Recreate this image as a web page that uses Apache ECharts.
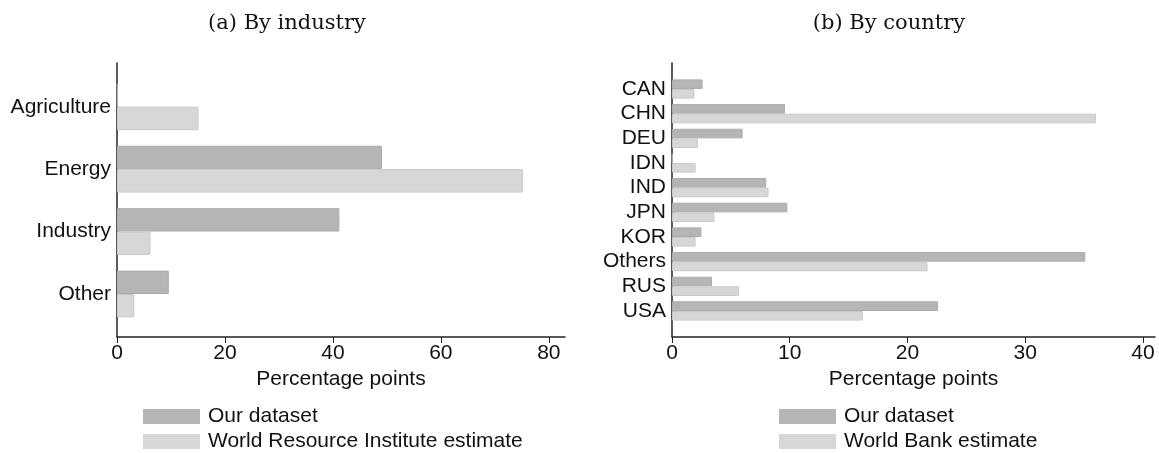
<!DOCTYPE html>
<html>
<head>
<meta charset="utf-8">
<script src="https://cdn.jsdelivr.net/npm/echarts@6/dist/echarts.min.js"></script>
<style>
  html, body { margin: 0; padding: 0; background: #fff; }
  #chart { width: 1159px; height: 453px; }
</style>
</head>
<body>
<div id="chart"></div>
<script>
// Panel (a): emissions shares by industry
const industries = ['Agriculture', 'Energy', 'Industry', 'Other'];
const industryOurs = [0.15, 49.1, 41.2, 9.6];
const industryWRI = [15.1, 75.2, 6.2, 3.2];
const industryTicks = [0, 20, 40, 60, 80];

// Panel (b): emissions shares by country
const countries = ['CAN', 'CHN', 'DEU', 'IDN', 'IND', 'JPN', 'KOR', 'Others', 'RUS', 'USA'];
const countryOurs = [2.6, 9.6, 6.0, 0.05, 8.0, 9.8, 2.5, 35.1, 3.4, 22.6];
const countryWB = [1.9, 36.0, 2.2, 2.0, 8.2, 3.6, 2.0, 21.7, 5.7, 16.2];
const countryTicks = [0, 10, 20, 30, 40];

const DARK = '#b5b5b5';
const LIGHT = '#d7d7d7';
const SANS = '"Liberation Sans", Arial, sans-serif';
const SERIF = '"DejaVu Serif", serif';
const AXIS_COLOR = '#222';
const FS = 21;

const chart = echarts.init(document.getElementById('chart'), null, { renderer: 'canvas' });

// Outer grids carry the visible frame axes; inner grids hold the bars.
const grids = [
  { left: 117, right: 594, top: 63, bottom: 116 },     // (a) frame
  { left: 117, right: 594, top: 75.5, bottom: 127.8 }, // (a) bars
  { left: 672, right: 4, top: 63, bottom: 116 },       // (b) frame
  { left: 672, right: 4, top: 76.7, bottom: 129.7 }    // (b) bars
];

function frameX(gridIndex, max, ticks) {
  return {
    type: 'value', gridIndex, min: 0, max,
    axisLine: { show: true, lineStyle: { color: AXIS_COLOR, width: 1.5 } },
    axisTick: { show: true, length: 6, customValues: ticks, lineStyle: { color: AXIS_COLOR, width: 1 } },
    axisLabel: { customValues: ticks, fontFamily: SANS, fontSize: FS, color: '#111', margin: 6 },
    splitLine: { show: false },
    name: 'Percentage points', nameLocation: 'middle', nameGap: 31,
    nameTextStyle: { fontFamily: SANS, fontSize: FS, color: '#111' }
  };
}
function hiddenX(gridIndex, max) {
  return { type: 'value', gridIndex, min: 0, max, show: false, splitLine: { show: false } };
}
function frameY(gridIndex) {
  return {
    type: 'value', gridIndex, min: 0, max: 1,
    axisLine: { show: true, lineStyle: { color: AXIS_COLOR, width: 1.5 } },
    axisTick: { show: false }, axisLabel: { show: false }, splitLine: { show: false }
  };
}
function barY(gridIndex, cats) {
  return {
    type: 'category', gridIndex, data: cats, inverse: true,
    axisLine: { show: false }, axisTick: { show: false },
    axisLabel: { interval: 0, fontFamily: SANS, fontSize: FS, color: '#111', margin: 6 }
  };
}
function barSeries(name, data, xi, yi, color, border, gap) {
  return {
    type: 'bar', name, data, xAxisIndex: xi, yAxisIndex: yi,
    barGap: '0%', barCategoryGap: gap,
    itemStyle: { color, borderColor: border, borderWidth: 1 },
    emphasis: { disabled: true }, animation: false
  };
}

// One legend entry per box, stacked in two rows under each panel
function legendEntry(name, left, top) {
  return {
    orient: 'vertical', left, top, data: [name],
    itemWidth: 57, itemHeight: 15, itemGap: 0, padding: 0,
    icon: 'rect', selectedMode: false,
    itemStyle: { borderWidth: 0 },
    textStyle: { fontFamily: SANS, fontSize: FS, color: '#111', padding: [0, 0, 0, 3] }
  };
}

chart.setOption({
  animation: false,
  title: [
    { text: '(a) By industry', left: 282, top: 19, textAlign: 'center', textVerticalAlign: 'middle',
      textStyle: { fontFamily: SERIF, fontSize: 21, fontWeight: 'normal', color: '#111' } },
    { text: '(b) By country', left: 884, top: 19, textAlign: 'center', textVerticalAlign: 'middle',
      textStyle: { fontFamily: SERIF, fontSize: 21, fontWeight: 'normal', color: '#111' } }
  ],
  grid: grids,
  xAxis: [
    frameX(0, 83, industryTicks),
    hiddenX(1, 83),
    frameX(2, 41.02, countryTicks),
    hiddenX(3, 41.02)
  ],
  yAxis: [frameY(0), barY(1, industries), frameY(2), barY(3, countries)],
  legend: [
    legendEntry('Our dataset', 143, 406),
    legendEntry('World Resource Institute estimate', 143, 431),
    legendEntry('Our dataset', 779, 406),
    legendEntry('World Bank estimate', 779, 431)
  ],
  series: [
    barSeries('Our dataset', industryOurs, 1, 1, DARK, '#adadad', '25%'),
    barSeries('World Resource Institute estimate', industryWRI, 1, 1, LIGHT, '#c9c9c9', '25%'),
    barSeries('Our dataset', countryOurs, 3, 3, DARK, '#adadad', '22%'),
    barSeries('World Bank estimate', countryWB, 3, 3, LIGHT, '#c9c9c9', '22%')
  ]
});
</script>
</body>
</html>
